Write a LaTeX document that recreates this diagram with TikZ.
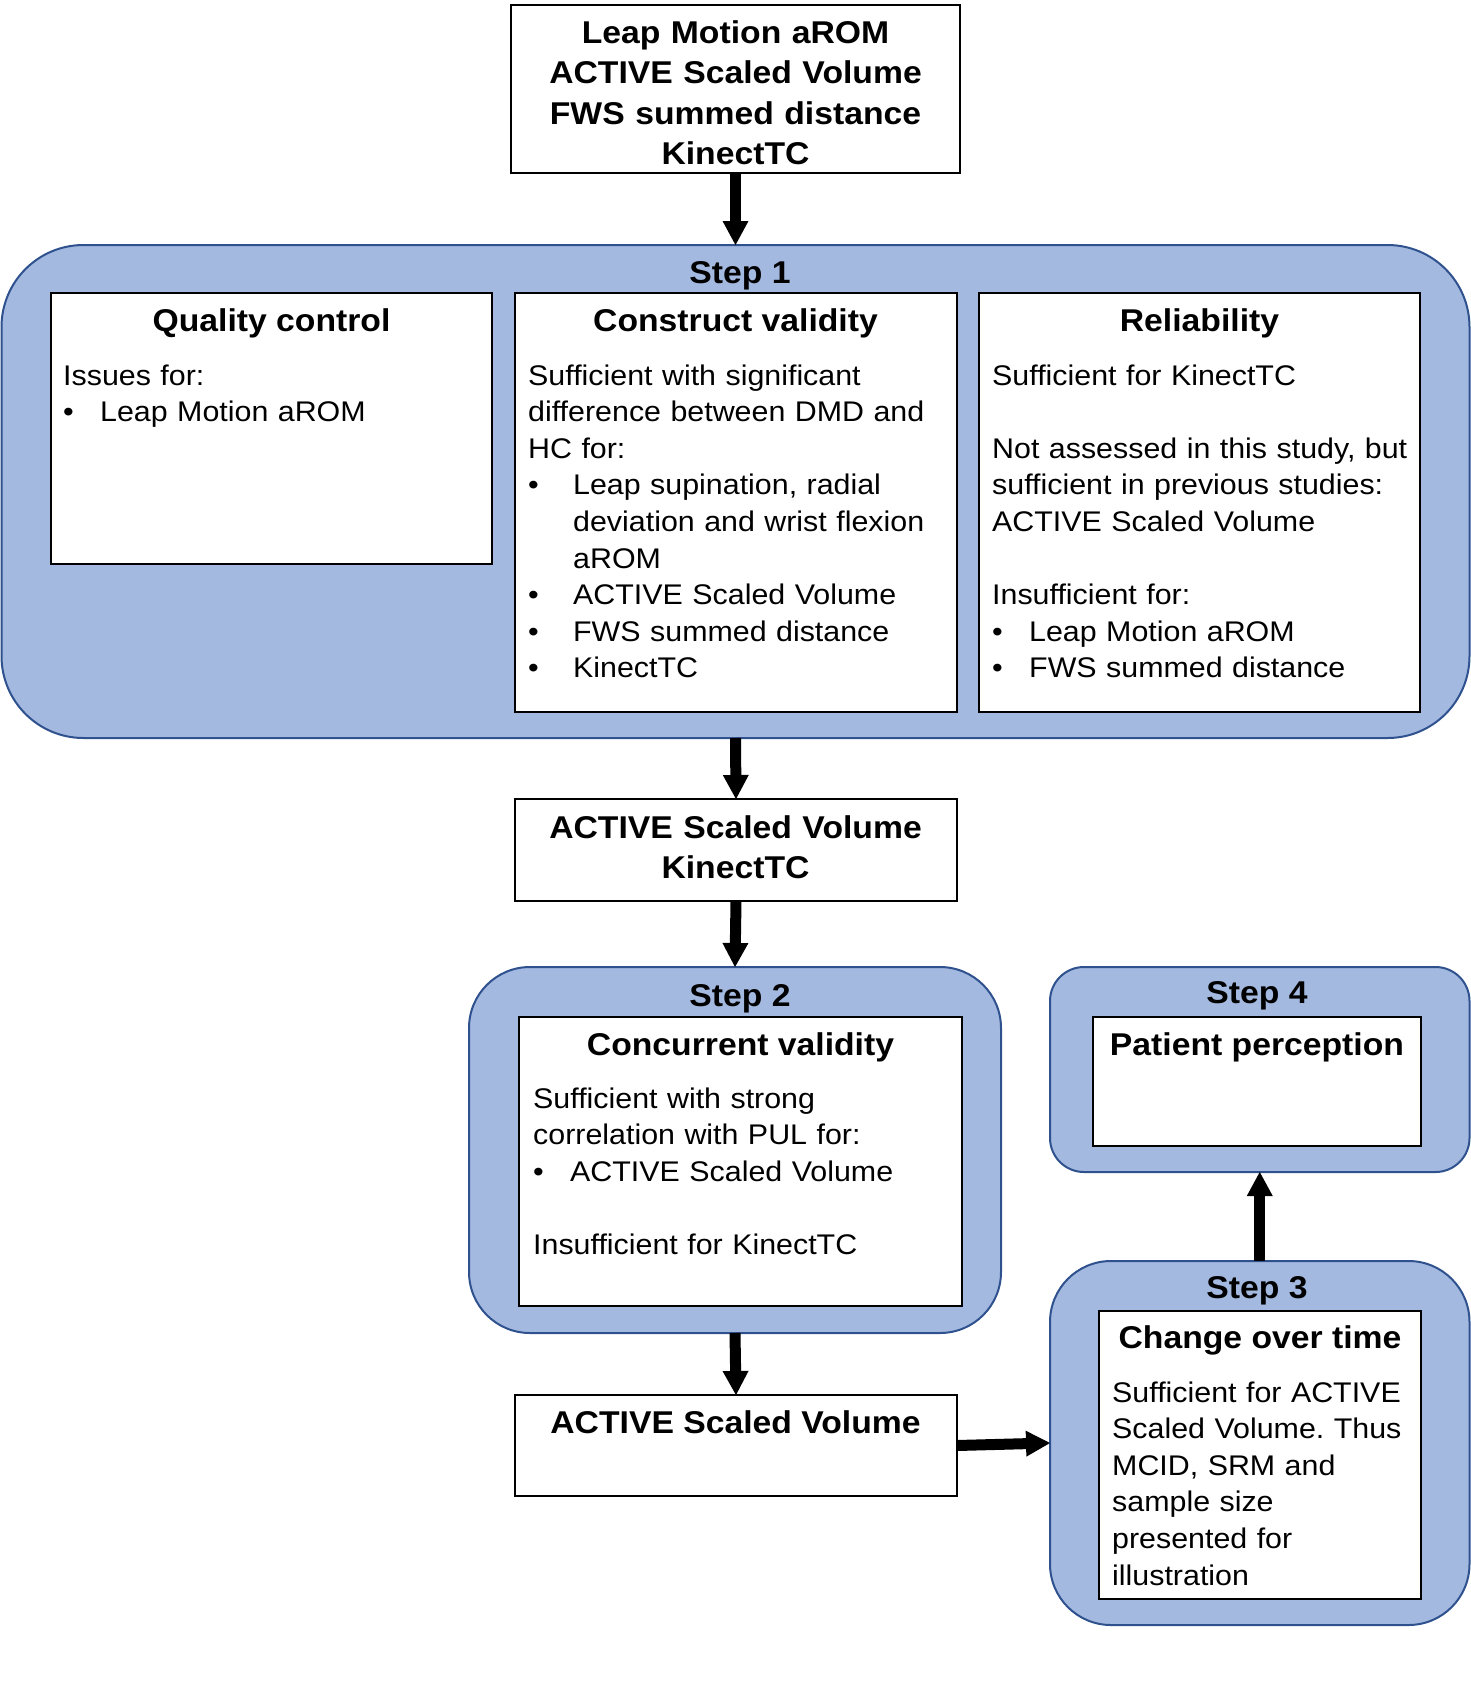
\documentclass[tikz,border=0pt]{standalone}
\usepackage{fontspec}
\setmainfont{Liberation Sans}[FakeStretch=1.07]
\usetikzlibrary{arrows.meta,fit}
\definecolor{stepfill}{RGB}{163,185,224}
\definecolor{stepline}{RGB}{47,82,143}
\newcommand\bul{\makebox[37pt][l]{\textbullet}}
\newcommand\bulw{\makebox[45pt][l]{\textbullet}}
\frenchspacing
\begin{document}
\begin{tikzpicture}[x=1pt,y=-1pt,
  stepbox/.style={draw=stepline, fill=stepfill, line width=2pt, inner sep=0pt, outer sep=0pt},
  whitebox/.style={draw=black, fill=white, line width=2.5pt, inner sep=0pt, outer sep=0pt},
  hd/.style={font=\fontsize{31.5}{40.5}\selectfont\bfseries, inner sep=0pt, anchor=base},
  body/.style={font=\fontsize{28.4}{36.6}\selectfont, inner sep=0pt, anchor=base west, text width=440pt, align=left},
  arr/.style={line width=11pt, -{Triangle[length=24pt,width=26pt,line width=0pt]}}]
\useasboundingbox (0,0) rectangle (1471,1687);

% top box
\node[whitebox, fit={(511,5) (960,173)}] (top) {};
\node[hd, text width=449pt, align=center] (toptxt) at (735.5,43) {Leap Motion aROM\\ACTIVE Scaled Volume\\FWS summed distance\\KinectTC};

% Step 1
\node[stepbox, rounded corners=82pt, fit={(1.5,245) (1469.5,738)}] (s1) {};
\node[hd] (s1t) at (740,283) {Step 1};
\node[whitebox, fit={(51,293) (492,564)}] (qc) {};
\node[whitebox, fit={(515,293) (957,712)}] (cv) {};
\node[whitebox, fit={(979,293) (1420,712)}] (rel) {};
\node[hd] (qch) at (271.5,331) {Quality control};
\node[hd] (cvh) at (735.5,331) {Construct validity};
\node[hd] (relh) at (1199.5,331) {Reliability};
\node[body] (qcb) at (63,385) {Issues for:\\\bul Leap Motion aROM};
\node[body] (cvb) at (528,385) {Sufficient with significant\\difference between DMD and\\HC for:\\\bulw Leap supination, radial\\\hspace*{45pt}deviation and wrist flexion\\\hspace*{45pt}aROM\\\bulw ACTIVE Scaled Volume\\\bulw FWS summed distance\\\bulw KinectTC};
\node[body] (relb) at (992,385) {Sufficient for KinectTC\\[36.6pt]Not assessed in this study, but\\sufficient in previous studies:\\ACTIVE Scaled Volume\\[36.6pt]Insufficient for:\\\bul Leap Motion aROM\\\bul FWS summed distance};

% box 2
\node[whitebox, fit={(515,799) (957,901)}] (b2) {};
\node[hd, text width=442pt, align=center] (b2t) at (735.5,838) {ACTIVE Scaled Volume\\KinectTC};

% Step 2
\node[stepbox, rounded corners=61pt, fit={(469,967) (1001,1333)}] (s2) {};
\node[hd] (s2t) at (740,1006) {Step 2};
\node[whitebox, fit={(519,1017) (962,1306)}] (cc) {};
\node[hd] (cch) at (740.5,1055) {Concurrent validity};
\node[body] (ccb) at (533,1108) {Sufficient with strong\\correlation with PUL for:\\\bul ACTIVE Scaled Volume\\[36.6pt]Insufficient for KinectTC};

% box 3
\node[whitebox, fit={(515,1395) (957,1496)}] (b3) {};
\node[hd] (b3t) at (735.5,1433) {ACTIVE Scaled Volume};

% Step 4
\node[stepbox, rounded corners=34pt, fit={(1050,967) (1469.5,1172)}] (s4) {};
\node[hd] (s4t) at (1257,1003) {Step 4};
\node[whitebox, fit={(1093,1017) (1421,1146)}] (pp) {};
\node[hd] (pph) at (1257,1055) {Patient perception};

% Step 3
\node[stepbox, rounded corners=61pt, fit={(1050,1261) (1469.5,1625)}] (s3) {};
\node[hd] (s3t) at (1257,1298) {Step 3};
\node[whitebox, fit={(1099,1311) (1421,1599)}] (ch) {};
\node[hd] (chh) at (1260,1348) {Change over time};
\node[body] (chb) at (1112,1402) {Sufficient for ACTIVE\\Scaled Volume. Thus\\MCID, SRM and\\sample size\\presented for\\illustration};

% connectors
\draw[arr] (top.south) -- (s1.north);
\draw[arr] (s1.south) -- (b2.north);
\draw[arr] (b2.south) -- (s2.north);
\draw[arr] (s2.south) -- (b3.north);
\draw[arr] (b3.east) -- (s3.west);
\draw[arr] (s3.north) -- (s4.south);
\end{tikzpicture}
\end{document}
